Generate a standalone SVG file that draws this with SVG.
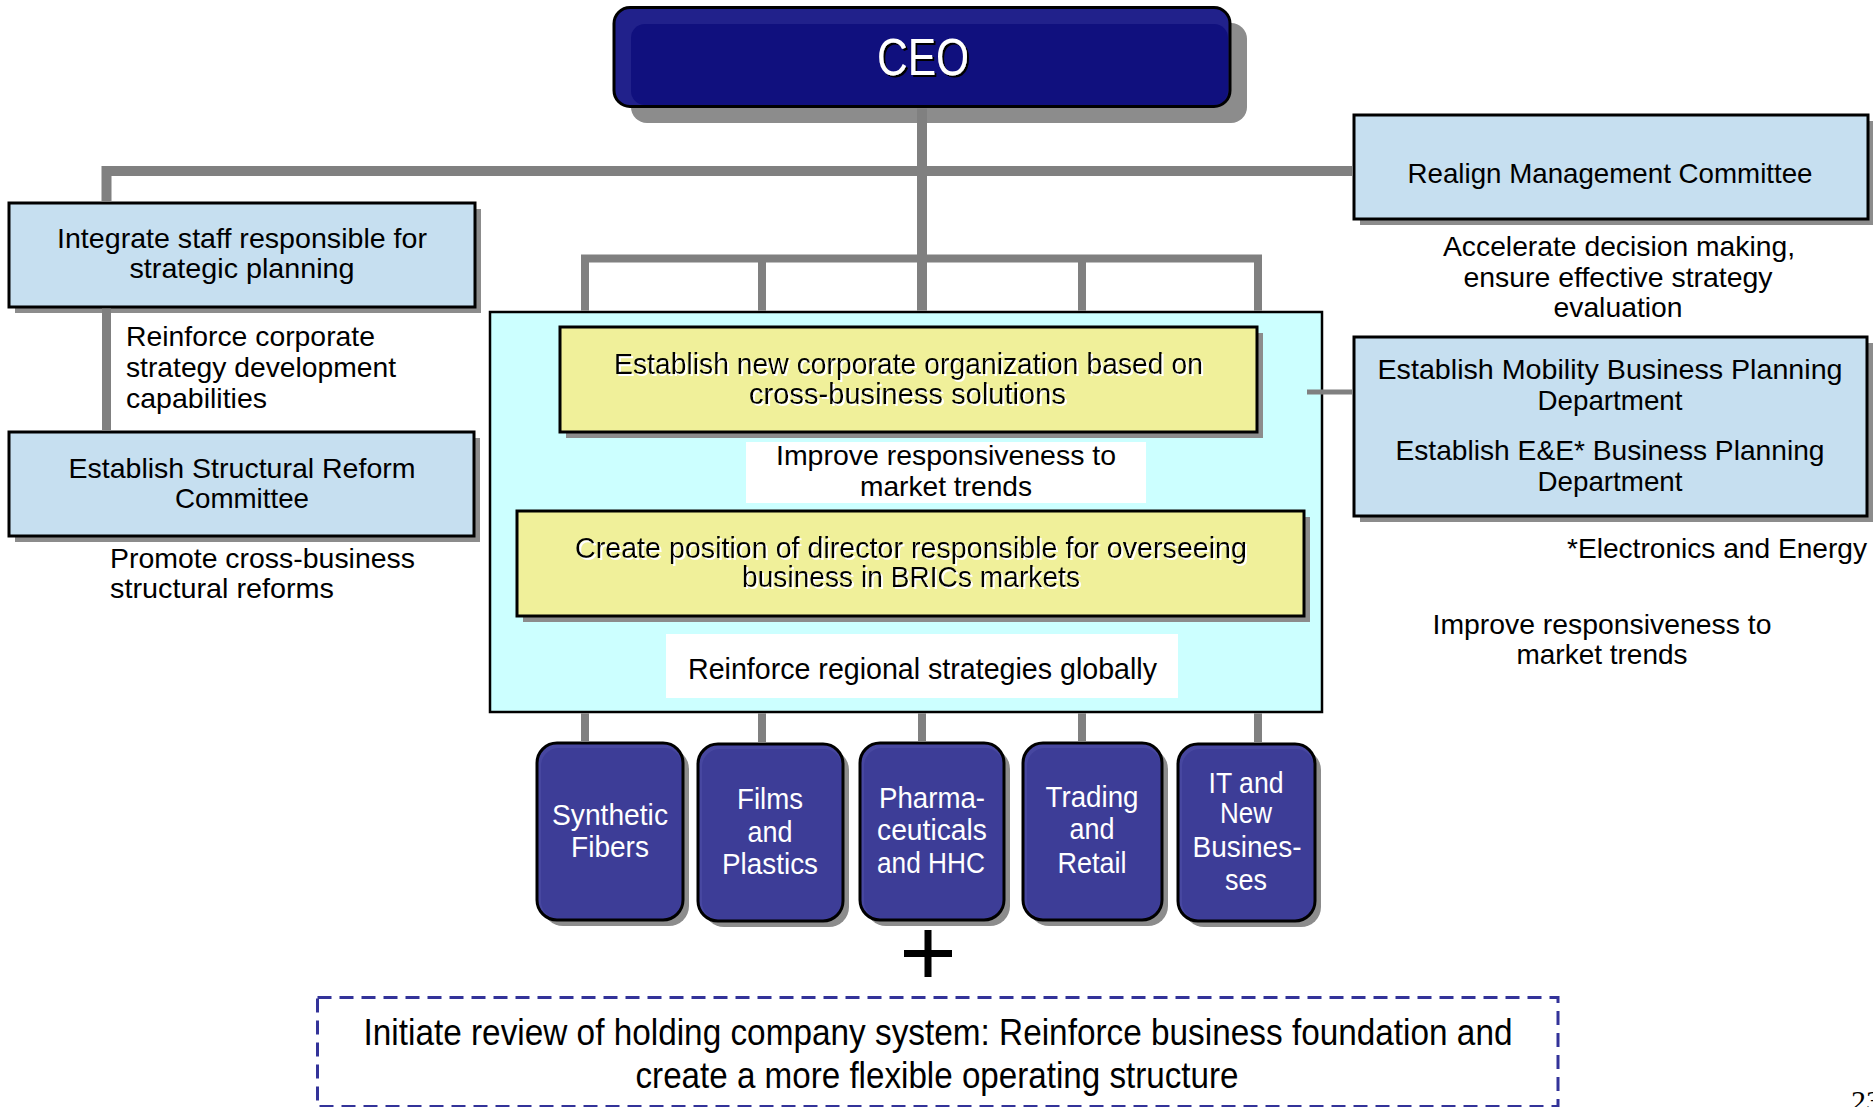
<svg xmlns="http://www.w3.org/2000/svg" width="1873" height="1107" viewBox="0 0 1873 1107">
<style>
.t{font-family:"Liberation Sans",Arial,sans-serif;fill:#000;}
.m{text-anchor:middle;}
.e{text-anchor:end;}
.w{fill:#fff;}
.s28{font-size:28px;}
.s29{font-size:29px;}
.sh{fill:#8c8c8c;}
.blue{fill:#c6dff0;stroke:#000;stroke-width:3;}
.yel{fill:#f0f09a;stroke:#000;stroke-width:3;}
.unit{fill:#4747a0;stroke:none;}
.unitin{fill:#3d3d97;}
.ub{fill:none;stroke:#000;stroke-width:3;}
.ln{stroke:#808080;fill:none;}
.wsh{filter:url(#whiteShadow);}
.bsh{filter:url(#blackShadow);}
</style>
<defs>
  <filter id="whiteShadow" x="-5%" y="-30%" width="110%" height="160%">
    <feOffset in="SourceAlpha" dx="2" dy="2" result="o"/>
    <feFlood flood-color="#ffffff"/>
    <feComposite in2="o" operator="in" result="s"/>
    <feMerge><feMergeNode in="s"/><feMergeNode in="SourceGraphic"/></feMerge>
  </filter>
  <filter id="blackShadow" x="-10%" y="-30%" width="120%" height="160%">
    <feOffset in="SourceAlpha" dx="2" dy="2" result="o"/>
    <feFlood flood-color="#000000"/>
    <feComposite in2="o" operator="in" result="s"/>
    <feMerge><feMergeNode in="s"/><feMergeNode in="SourceGraphic"/></feMerge>
  </filter>
</defs>
<rect x="0" y="0" width="1873" height="1107" fill="#fff"/>

<g id="ceo">
  <rect class="sh" x="631" y="23" width="616" height="100" rx="16"/>
  <rect x="614" y="7.5" width="616" height="99" rx="16" fill="#21218b"/>
  <rect x="631" y="24" width="597" height="81" rx="14" fill="#10107e"/>
  <rect x="614" y="7.5" width="616" height="99" rx="16" fill="none" stroke="#000" stroke-width="3"/>
  <text class="t m w bsh" x="923" y="75" font-size="52" textLength="92" lengthAdjust="spacingAndGlyphs">CEO</text>
</g>

<g id="integrate-staff">
  <rect class="sh" x="15" y="209" width="466" height="104"/>
  <rect class="blue" x="9" y="203" width="466" height="104"/>
  <text class="t m s28" x="242" y="248" textLength="370" lengthAdjust="spacingAndGlyphs">Integrate staff responsible for</text>
  <text class="t m s28" x="242" y="278" textLength="225" lengthAdjust="spacingAndGlyphs">strategic planning</text>
</g>
<g id="note-reinforce-corporate">
  <text class="t s28" x="126" y="346" textLength="249" lengthAdjust="spacingAndGlyphs">Reinforce corporate</text>
  <text class="t s28" x="126" y="377" textLength="270" lengthAdjust="spacingAndGlyphs">strategy development</text>
  <text class="t s28" x="126" y="408" textLength="141" lengthAdjust="spacingAndGlyphs">capabilities</text>
</g>
<g id="structural-reform">
  <rect class="sh" x="15" y="438" width="465" height="104"/>
  <rect class="blue" x="9" y="432" width="465" height="104"/>
  <text class="t m s28" x="242" y="478" textLength="347" lengthAdjust="spacingAndGlyphs">Establish Structural Reform</text>
  <text class="t m s28" x="242" y="508" textLength="134" lengthAdjust="spacingAndGlyphs">Committee</text>
</g>
<g id="note-promote">
  <text class="t s28" x="110" y="568" textLength="305" lengthAdjust="spacingAndGlyphs">Promote cross-business</text>
  <text class="t s28" x="110" y="598" textLength="224" lengthAdjust="spacingAndGlyphs">structural reforms</text>
</g>

<g id="realign">
  <rect class="sh" x="1360" y="121" width="514" height="104"/>
  <rect class="blue" x="1354" y="115" width="514" height="104"/>
  <text class="t m s28" x="1610" y="183" textLength="405" lengthAdjust="spacingAndGlyphs">Realign Management Committee</text>
</g>
<g id="note-accelerate">
  <text class="t m s28" x="1619" y="256" textLength="352" lengthAdjust="spacingAndGlyphs">Accelerate decision making,</text>
  <text class="t m s28" x="1618" y="287" textLength="309" lengthAdjust="spacingAndGlyphs">ensure effective strategy</text>
  <text class="t m s28" x="1618" y="317" textLength="129" lengthAdjust="spacingAndGlyphs">evaluation</text>
</g>
<g id="planning-departments">
  <rect class="sh" x="1360" y="343" width="513" height="179"/>
  <rect class="blue" x="1354" y="337" width="513" height="179"/>
  <text class="t m s28" x="1610" y="379" textLength="465" lengthAdjust="spacingAndGlyphs">Establish Mobility Business Planning</text>
  <text class="t m s28" x="1610" y="410" textLength="145" lengthAdjust="spacingAndGlyphs">Department</text>
  <text class="t m s28" x="1610" y="460" textLength="429" lengthAdjust="spacingAndGlyphs">Establish E&amp;E* Business Planning</text>
  <text class="t m s28" x="1610" y="491" textLength="145" lengthAdjust="spacingAndGlyphs">Department</text>
</g>
<g id="note-ee">
  <text class="t e s28" x="1867" y="558" textLength="300" lengthAdjust="spacingAndGlyphs">*Electronics and Energy</text>
</g>
<g id="note-improve-right">
  <text class="t m s28" x="1602" y="634" textLength="339" lengthAdjust="spacingAndGlyphs">Improve responsiveness to</text>
  <text class="t m s28" x="1602" y="664" textLength="171" lengthAdjust="spacingAndGlyphs">market trends</text>
</g>

<g id="corporate-block">
  <rect x="490" y="312" width="832" height="400" fill="#ccffff" stroke="#000" stroke-width="2.5"/>
</g>
<g id="cross-business">
  <rect class="sh" x="566" y="333" width="697" height="105"/>
  <rect class="yel" x="560" y="327" width="697" height="105"/>
  <text class="t m s29 wsh" x="908.5" y="374" textLength="589" lengthAdjust="spacingAndGlyphs">Establish new corporate organization based on</text>
  <text class="t m s29 wsh" x="907.5" y="404" textLength="317" lengthAdjust="spacingAndGlyphs">cross-business solutions</text>
</g>
<g id="note-improve-center">
  <rect x="746" y="442" width="400" height="61" fill="#fff"/>
  <text class="t m s28" x="946" y="465" textLength="340" lengthAdjust="spacingAndGlyphs">Improve responsiveness to</text>
  <text class="t m s28" x="946" y="496" textLength="172" lengthAdjust="spacingAndGlyphs">market trends</text>
</g>
<g id="brics-director">
  <rect class="sh" x="523" y="517" width="787" height="105"/>
  <rect class="yel" x="517" y="511" width="787" height="105"/>
  <text class="t m s29 wsh" x="911" y="558" textLength="672" lengthAdjust="spacingAndGlyphs">Create position of director responsible for overseeing</text>
  <text class="t m s29 wsh" x="911" y="587" textLength="338" lengthAdjust="spacingAndGlyphs">business in BRICs markets</text>
</g>
<g id="note-regional">
  <rect x="666" y="634" width="512" height="64" fill="#fff"/>
  <text class="t m s29" x="922.5" y="679" textLength="469" lengthAdjust="spacingAndGlyphs">Reinforce regional strategies globally</text>
</g>

<g id="synthetic-fibers">
  <rect class="sh" x="543" y="749" width="146" height="177" rx="20"/>
  <rect class="unit" x="537" y="743" width="146" height="177" rx="20"/>
  <rect class="unitin" x="541" y="748" width="141" height="171" rx="18"/>
  <rect class="ub" x="537" y="743" width="146" height="177" rx="20"/>
  <text class="t m s29 w" x="610" y="825" textLength="116" lengthAdjust="spacingAndGlyphs">Synthetic</text>
  <text class="t m s29 w" x="610" y="857" textLength="78" lengthAdjust="spacingAndGlyphs">Fibers</text>
</g>
<g id="films-plastics">
  <rect class="sh" x="704" y="750" width="145" height="177" rx="20"/>
  <rect class="unit" x="698" y="744" width="145" height="177" rx="20"/>
  <rect class="unitin" x="702" y="749" width="140" height="171" rx="18"/>
  <rect class="ub" x="698" y="744" width="145" height="177" rx="20"/>
  <text class="t m s29 w" x="770" y="809" textLength="66" lengthAdjust="spacingAndGlyphs">Films</text>
  <text class="t m s29 w" x="770" y="842" textLength="45" lengthAdjust="spacingAndGlyphs">and</text>
  <text class="t m s29 w" x="770" y="874" textLength="96" lengthAdjust="spacingAndGlyphs">Plastics</text>
</g>
<g id="pharmaceuticals">
  <rect class="sh" x="866" y="749" width="144" height="177" rx="20"/>
  <rect class="unit" x="860" y="743" width="144" height="177" rx="20"/>
  <rect class="unitin" x="864" y="748" width="139" height="171" rx="18"/>
  <rect class="ub" x="860" y="743" width="144" height="177" rx="20"/>
  <text class="t m s29 w" x="932" y="808" textLength="106" lengthAdjust="spacingAndGlyphs">Pharma-</text>
  <text class="t m s29 w" x="932" y="840" textLength="110" lengthAdjust="spacingAndGlyphs">ceuticals</text>
  <text class="t m s29 w" x="931" y="873" textLength="108" lengthAdjust="spacingAndGlyphs">and HHC</text>
</g>
<g id="trading-retail">
  <rect class="sh" x="1029" y="749" width="139" height="177" rx="20"/>
  <rect class="unit" x="1023" y="743" width="139" height="177" rx="20"/>
  <rect class="unitin" x="1027" y="748" width="134" height="171" rx="18"/>
  <rect class="ub" x="1023" y="743" width="139" height="177" rx="20"/>
  <text class="t m s29 w" x="1092" y="807" textLength="93" lengthAdjust="spacingAndGlyphs">Trading</text>
  <text class="t m s29 w" x="1092" y="839" textLength="45" lengthAdjust="spacingAndGlyphs">and</text>
  <text class="t m s29 w" x="1092" y="873" textLength="69" lengthAdjust="spacingAndGlyphs">Retail</text>
</g>
<g id="it-new-businesses">
  <rect class="sh" x="1184" y="750" width="137" height="177" rx="20"/>
  <rect class="unit" x="1178" y="744" width="137" height="177" rx="20"/>
  <rect class="unitin" x="1182" y="749" width="132" height="171" rx="18"/>
  <rect class="ub" x="1178" y="744" width="137" height="177" rx="20"/>
  <text class="t m s29 w" x="1246" y="793" textLength="75" lengthAdjust="spacingAndGlyphs">IT and</text>
  <text class="t m s29 w" x="1246" y="823" textLength="52" lengthAdjust="spacingAndGlyphs">New</text>
  <text class="t m s29 w" x="1247" y="857" textLength="109" lengthAdjust="spacingAndGlyphs">Busines-</text>
  <text class="t m s29 w" x="1246" y="890" textLength="42" lengthAdjust="spacingAndGlyphs">ses</text>
</g>

<g id="connectors">
  <path class="ln" d="M106.5 201.5 V171 H1352.5" stroke-width="10" stroke-linejoin="miter"/>
  <path class="ln" d="M106.5 308.5 V430.5" stroke-width="9"/>
  <path class="ln" d="M922 108.5 V310.75" stroke-width="10"/>
  <path class="ln" d="M581 258.5 H1262" stroke-width="8"/>
  <path class="ln" d="M585 255 V310.75 M762 255 V310.75 M1082 255 V310.75 M1258 255 V310.75" stroke-width="8"/>
  <path class="ln" d="M585 713.25 V741.5 M762 713.25 V742.5 M922 713.25 V741.5 M1082 713.25 V741.5 M1258 713.25 V742.5" stroke-width="8"/>
  <path class="ln" d="M1307 392 H1352.5" stroke-width="5"/>
</g>

<g id="plus">
  <path d="M904 953.5 H952 M928 930 V977" stroke="#000" stroke-width="7" fill="none"/>
</g>

<g id="holding-review">
  <rect x="317.5" y="997.5" width="1240.5" height="109" fill="none" stroke="#333399" stroke-width="3" stroke-dasharray="14 8"/>
  <text class="t m" x="938" y="1045" font-size="36" textLength="1149" lengthAdjust="spacingAndGlyphs">Initiate review of holding company system: Reinforce business foundation and</text>
  <text class="t m" x="937" y="1088" font-size="36" textLength="603" lengthAdjust="spacingAndGlyphs">create a more flexible operating structure</text>
</g>

<text x="1851" y="1111" font-family="'Liberation Serif','Times New Roman',serif" font-size="30" fill="#000">23</text>
</svg>
